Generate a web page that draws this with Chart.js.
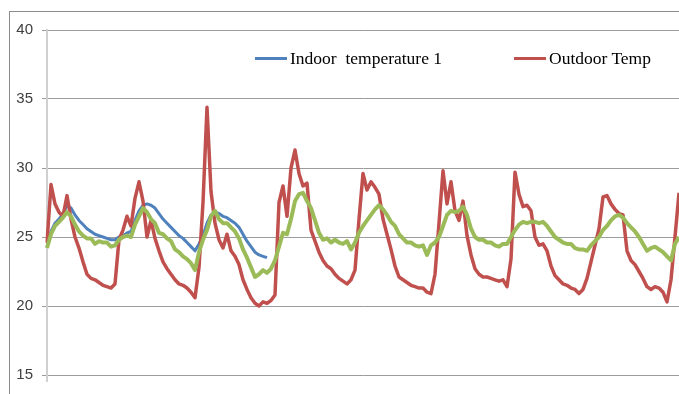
<!DOCTYPE html>
<html>
<head>
<meta charset="utf-8">
<script src="https://cdn.jsdelivr.net/npm/chart.js@4.4.1/dist/chart.umd.min.js"></script>
<style>
  html, body { margin: 0; padding: 0; background: #fff; overflow: hidden; }
  #wrap { position: relative; width: 679px; height: 394px; }
  #frame { position: absolute; left: 9px; top: 11px; width: 720px; height: 420px; border: 1px solid #8c8c8c; }
  canvas { position: absolute; left: 0; top: 0; }
  .key { position: absolute; font-family: "Liberation Serif", "Times New Roman", serif; font-size: 17.5px; color: #000; white-space: pre; line-height: 20px; }
  .swatch { position: absolute; height: 3px; width: 32px; }
</style>
</head>
<body>
<div id="wrap">
  <div id="frame"></div>
  <canvas id="temps" width="679" height="394"></canvas>
  <div class="swatch" style="left:255px; top:57px; background:#4f81bd;"></div>
  <div class="key" style="left:290px; top:48px;">Indoor  temperature 1</div>
  <div class="swatch" style="left:514px; top:57px; background:#c0504d;"></div>
  <div class="key" style="left:549px; top:48px;">Outdoor Temp</div>
</div>
<script>
// readings every ~4px of the original plot
const indoor = [
  24.3, 25.4, 26.0, 26.3, 26.7, 27.3, 27.1, 26.6, 26.2, 25.9, 25.6, 25.4, 25.2, 25.1, 25.0, 24.9, 24.8, 24.8, 25.0, 25.1,
  25.3, 25.4, 26.2, 26.9, 27.3, 27.4, 27.3, 27.1, 26.7, 26.3, 26.0, 25.7, 25.4, 25.1, 24.9, 24.6, 24.3, 24.0, 24.5, 25.1,
  26.0, 26.6, 26.8, 26.7, 26.5, 26.4, 26.2, 26.0, 25.7, 25.2, 24.7, 24.3, 23.9, 23.7, 23.6, 23.5
];
const outdoor = [
  24.6, 28.8, 27.4, 26.8, 26.5, 28.0, 26.3, 25.0, 24.2, 23.2, 22.3, 22.0, 21.9, 21.7, 21.5, 21.4, 21.3, 21.6, 24.8, 25.5,
  26.5, 25.8, 27.8, 29.0, 27.6, 25.0, 26.2, 24.9, 24.0, 23.2, 22.7, 22.3, 21.9, 21.6, 21.5, 21.3, 21.0, 20.6, 22.8, 27.5,
  34.4, 28.3, 26.0, 24.8, 24.2, 25.2, 24.0, 23.6, 23.0, 21.9, 21.2, 20.6, 20.2, 20.0, 20.3, 20.2, 20.4, 20.8, 27.5, 28.7,
  26.5, 30.0, 31.3, 29.6, 28.7, 28.9, 25.5, 24.7, 23.9, 23.3, 22.9, 22.7, 22.3, 22.0, 21.8, 21.6, 21.9, 22.6, 26.3, 29.6,
  28.4, 29.0, 28.6, 28.1, 26.3, 25.2, 24.1, 22.9, 22.1, 21.9, 21.7, 21.5, 21.4, 21.3, 21.3, 21.0, 20.9, 22.3, 26.0, 29.8,
  27.4, 29.0, 26.9, 26.2, 27.6, 25.1, 23.7, 22.7, 22.3, 22.1, 22.1, 22.0, 21.9, 21.8, 21.9, 21.4, 23.4, 29.7, 28.1, 27.2,
  27.3, 26.9, 25.0, 24.4, 24.5, 24.0, 22.9, 22.2, 21.9, 21.6, 21.5, 21.3, 21.2, 20.9, 21.2, 22.0, 23.2, 24.4, 25.6, 27.9,
  28.0, 27.4, 27.0, 26.7, 26.6, 24.0, 23.3, 23.0, 22.5, 22.0, 21.4, 21.2, 21.4, 21.3, 21.0, 20.3, 21.9, 25.0, 28.2
];
const indoor2 = [
  24.2, 25.2, 25.8, 26.1, 26.4, 26.8, 26.5, 25.9, 25.4, 25.1, 24.9, 24.9, 24.5, 24.7, 24.6, 24.6, 24.3, 24.4, 24.8, 25.0,
  25.1, 25.0, 25.9, 26.5, 27.1, 26.8, 26.3, 26.0, 25.3, 25.2, 24.9, 24.7, 24.1, 23.9, 23.6, 23.4, 23.1, 22.6, 23.9, 24.8,
  25.5, 26.5, 26.9, 26.3, 26.0, 26.0, 25.7, 25.4, 24.9, 24.1, 23.5, 22.8, 22.1, 22.3, 22.6, 22.4, 22.7, 23.3, 24.3, 25.3,
  25.2, 26.3, 27.6, 28.1, 28.2, 27.6, 27.1, 26.2, 25.3, 24.8, 24.9, 24.6, 24.8, 24.6, 24.5, 24.7, 24.1, 24.6, 25.3, 25.8,
  26.2, 26.6, 27.0, 27.3, 27.0, 26.6, 26.1, 25.8, 25.2, 24.9, 24.6, 24.6, 24.4, 24.3, 24.4, 23.7, 24.4, 24.6, 25.0, 25.8,
  26.6, 26.9, 26.8, 26.9, 27.2, 26.6, 25.6, 25.0, 24.8, 24.8, 24.6, 24.6, 24.4, 24.3, 24.5, 24.5, 25.0, 25.5, 25.9, 26.1,
  26.0, 26.1, 26.1, 26.0, 26.1, 25.8, 25.4, 25.0, 24.8, 24.6, 24.5, 24.5, 24.2, 24.1, 24.1, 24.0, 24.4, 24.7, 25.0, 25.5,
  25.8, 26.2, 26.5, 26.6, 26.4, 26.0, 25.7, 25.4, 25.0, 24.5, 24.0, 24.2, 24.3, 24.1, 23.9, 23.6, 23.3, 24.5, 25.0
];
const samples = outdoor.map((v, i) => i);
const yTicks = [15, 20, 25, 30, 35, 40];

new Chart(document.getElementById("temps"), {
  type: 'line',
  data: {
    labels: samples,
    datasets: [{
        data: indoor2,
        label: "Indoor temperature 2",
        borderColor: "#9bbb59",
        borderWidth: 4,
        order: 0
      }, {
        data: outdoor,
        label: "Outdoor Temp",
        borderColor: "#c0504d",
        borderWidth: 3.5,
        order: 1
      }, {
        data: indoor,
        label: "Indoor  temperature 1",
        borderColor: "#4f81bd",
        borderWidth: 3,
        order: 2
      }
    ]
  },
  options: {
    responsive: false,
    animation: false,
    layout: { padding: { left: 0, right: 0, top: 30, bottom: 12 } },
    elements: { point: { radius: 0 }, line: { tension: 0, fill: false, borderJoinStyle: 'round' } },
    plugins: { legend: { display: false }, tooltip: { enabled: false } },
    scales: {
      x: {
        type: 'category',
        offset: false,
        afterBuildTicks: (s) => { s.ticks = [{ value: 0 }]; },
        afterFit: (s) => { s.height = 7; },
        grid: { drawOnChartArea: false, tickLength: 7, color: '#d0d0d0', lineWidth: 2 },
        border: { display: false },
        ticks: { display: false }
      },
      y: {
        min: 15,
        max: 40,
        afterFit: (s) => { s.width = 47; },
        afterBuildTicks: (s) => { s.ticks = yTicks.map(v => ({ value: v })); },
        grid: { color: '#9c9c9c', lineWidth: 1, tickLength: 5 },
        border: { color: '#d0d0d0', width: 2 },
        ticks: { padding: 9, color: '#404040', font: { family: "'Liberation Sans', Arial, sans-serif", size: 15 } }
      }
    }
  }
});
</script>
</body>
</html>
